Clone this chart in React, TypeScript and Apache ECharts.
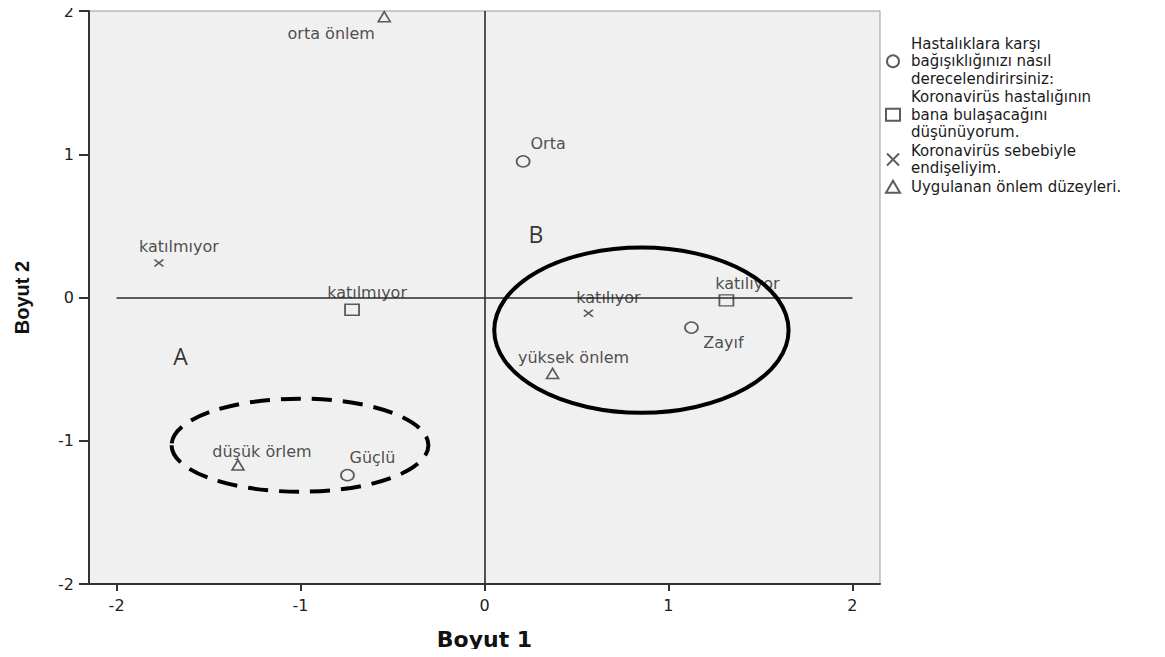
import React, { useEffect, useRef } from "react";
import * as echarts from "echarts";

// ---- data ----
const immunityName = "Hastalıklara karşı\nbağışıklığınızı nasıl\nderecelendirirsiniz:";
const infectName = "Koronavirüs hastalığının\nbana bulaşacağını\ndüşünüyorum.";
const worryName = "Koronavirüs sebebiyle\nendişeliyim.";
const measureName = "Uygulanan önlem düzeyleri.";

const immunityLabels = ["Orta", "Zayıf", "Güçlü"];
const immunityX = [0.21, 1.125, -0.745];
const immunityY = [0.95, -0.21, -1.24];

const infectLabels = ["katılmıyor", "katılıyor"];
const infectX = [-0.72, 1.315];
const infectY = [-0.085, -0.02];

const worryLabels = ["katılmıyor", "katılıyor"];
const worryX = [-1.77, 0.565];
const worryY = [0.24, -0.11];

const measureLabels = ["orta önlem", "yüksek önlem", "düşük örlem"];
const measureX = [-0.545, 0.37, -1.34];
const measureY = [1.96, -0.53, -1.17];

const xTicks = [-2, -1, 0, 1, 2];

// annotation letters and ellipses (data units)
const annotationLabels = ["A", "B"];
const annotationX = [-1.652, 0.28];
const annotationY = [-0.41, 0.445];

const ellipseCx = [0.853, -1.003];
const ellipseCy = [-0.228, -1.031];
const ellipseRx = [0.80, 0.698];
const ellipseRy = [0.577, 0.325];
const ellipseDashed = [0, 1];

// ---- label placement (pixel offsets from marker centre) ----
const immunityOffsets = [[25, -18], [32, 15], [25, -18]];
const infectOffsets = [[15, -17], [21, -17]];
const worryOffsets = [[20, -17], [20, -16]];
const measureOffsets = [[-53, 17], [21, -16], [24, -14]];

const INK = "#333";
const LABEL_FONT = "DejaVu Sans";

function pointsOf(xs: number[], ys: number[], names: string[], offs: number[][]) {
  return xs.map((x, i) => ({
    name: names[i],
    value: [x, ys[i]],
    label: { offset: offs[i] },
  }));
}

const markerStyle = {
  color: "rgba(0,0,0,0)",
  borderColor: INK,
  borderWidth: 1.6,
};

const pointLabel = {
  show: true,
  position: "inside",
  formatter: "{b}",
  fontFamily: LABEL_FONT,
  fontSize: 16,
  color: "#222",
  align: "center",
  verticalAlign: "middle",
};

export default function App() {
  const ref = useRef<HTMLDivElement>(null);

  useEffect(() => {
    if (!ref.current) return;
    const chart = echarts.init(ref.current, undefined, { renderer: "svg" });

    const ellipseData = ellipseCx.map((cx, i) => [cx, ellipseCy[i], ellipseRx[i], ellipseRy[i], ellipseDashed[i]]);

    chart.setOption({
      animation: false,
      backgroundColor: "#fff",
      grid: {
        left: 89,
        top: 11,
        right: 285,
        bottom: 73,
        show: true,
        backgroundColor: "#f0f0f0",
        borderColor: "#9a9a9a",
        borderWidth: 1,
      },
      legend: {
        orient: "vertical",
        left: 880,
        top: 30,
        itemGap: 1,
        itemWidth: 14,
        itemHeight: 12,
        selectedMode: false,
        data: [immunityName, infectName, worryName, measureName],
        textStyle: {
          fontFamily: LABEL_FONT,
          fontSize: 15,
          lineHeight: 17.5,
          color: "#1a1a1a",
          padding: [0, 0, 0, 6],
        },
      },
      xAxis: {
        type: "value",
        min: -2.15,
        max: 2.15,
        splitLine: { show: false },
        axisLine: { show: true, onZero: false, lineStyle: { color: INK, width: 2 } },
        axisTick: { show: true, length: 7, customValues: xTicks, lineStyle: { color: INK, width: 2 } },
        axisLabel: {
          customValues: xTicks,
          margin: 13,
          fontFamily: LABEL_FONT,
          fontSize: 16,
          color: "#222",
        },
        name: "Boyut 1",
        nameLocation: "middle",
        nameGap: 44,
        nameTextStyle: { fontFamily: "DejaVu Sans", fontWeight: "bold", fontSize: 22, color: "#111" },
      },
      yAxis: {
        type: "value",
        min: -2,
        max: 2,
        interval: 1,
        splitLine: { show: false },
        axisLine: { show: true, onZero: false, lineStyle: { color: INK, width: 2 } },
        axisTick: { show: true, length: 10, lineStyle: { color: INK, width: 2 } },
        axisLabel: {
          margin: 15,
          fontFamily: LABEL_FONT,
          fontSize: 16,
          color: "#222",
        },
        name: "Boyut 2",
        nameLocation: "middle",
        nameGap: 57,
        nameTextStyle: { fontFamily: "Liberation Sans", fontWeight: "bold", fontSize: 20, color: "#111" },
      },
      series: [
        {
          name: immunityName,
          type: "scatter",
          symbol: "circle",
          symbolSize: [13, 11],
          itemStyle: markerStyle,
          label: pointLabel,
          data: pointsOf(immunityX, immunityY, immunityLabels, immunityOffsets),
          z: 5,
          markLine: {
            silent: true,
            symbol: ["none", "none"],
            label: { show: false },
            lineStyle: { color: "#2b2b2b", width: 1.6, type: "solid" },
            data: [
              [{ coord: [xTicks[0], 0] }, { coord: [xTicks[xTicks.length - 1], 0] }],
              { xAxis: 0 },
            ],
          },
        },
        {
          name: infectName,
          type: "scatter",
          symbol: "rect",
          symbolSize: [14, 11],
          itemStyle: markerStyle,
          label: pointLabel,
          data: pointsOf(infectX, infectY, infectLabels, infectOffsets),
          z: 5,
        },
        {
          name: worryName,
          type: "scatter",
          symbol: "path://M0,0L10,10M10,0L0,10",
          symbolSize: [9, 7],
          itemStyle: markerStyle,
          label: pointLabel,
          data: pointsOf(worryX, worryY, worryLabels, worryOffsets),
          z: 5,
        },
        {
          name: measureName,
          type: "scatter",
          symbol: "triangle",
          symbolSize: [12, 10],
          itemStyle: markerStyle,
          label: pointLabel,
          data: pointsOf(measureX, measureY, measureLabels, measureOffsets),
          z: 5,
        },
        {
          name: "annotations",
          type: "scatter",
          symbolSize: 0,
          silent: true,
          itemStyle: { color: "rgba(0,0,0,0)" },
          label: {
            show: true,
            position: "inside",
            formatter: "{b}",
            fontFamily: "Open Sans",
            fontSize: 23,
            color: "#000",
          },
          data: annotationX.map((x, i) => ({ name: annotationLabels[i], value: [x, annotationY[i]] })),
          z: 6,
        },
        {
          name: "ellipses",
          type: "custom",
          silent: true,
          clip: false,
          z: 7,
          dimensions: ["cx", "cy", "rx", "ry", "dashed"],
          encode: { x: 0, y: 1 },
          data: ellipseData,
          renderItem: (params: any, api: any) => {
            const c = api.coord([api.value(0), api.value(1)]);
            const s = api.size([api.value(2), api.value(3)]);
            const rx = s[0];
            const ry = s[1];
            const dashed = api.value(4) === 1;
            const d = `M ${c[0] - rx} ${c[1]} A ${rx} ${ry} 0 1 0 ${c[0] + rx} ${c[1]} A ${rx} ${ry} 0 1 0 ${c[0] - rx} ${c[1]} Z`;
            return {
              type: "path",
              shape: { pathData: d },
              style: {
                fill: "none",
                stroke: "#000",
                lineWidth: 4,
                lineDash: dashed ? [20, 11] : null,
              },
            };
          },
        },
      ],
    });

    return () => chart.dispose();
  }, []);

  return <div ref={ref} style={{ width: 1165, height: 657, margin: -8 }} />;
}
